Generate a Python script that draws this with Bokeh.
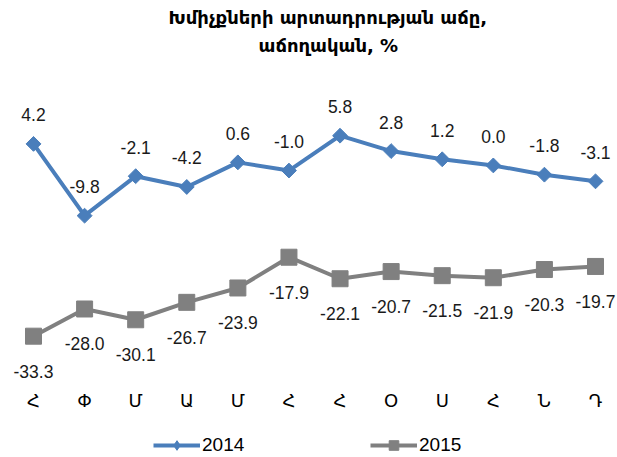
import math
from bokeh.plotting import figure
from bokeh.layouts import column
from bokeh.core.properties import value
from bokeh.models import (ColumnDataSource, LabelSet, Legend, LegendItem, Title,
                          FixedTicker, Range1d)
from bokeh.embed import file_html
from bokeh.resources import INLINE

months = ["Հ", "Փ", "Մ", "Ա", "Մ", "Հ", "Հ", "Օ", "Ս", "Հ", "Ն", "Դ"]
y2014 = [4.2, -9.8, -2.1, -4.2, 0.6, -1.0, 5.8, 2.8, 1.2, 0.0, -1.8, -3.1]
y2015 = [-33.3, -28.0, -30.1, -26.7, -23.9, -17.9, -22.1, -20.7, -21.5, -21.9, -20.3, -19.7]
series_names = ["2014", "2015"]
title_lines = ["Խմիչքների արտադրության աճը,", "աճողական, %"]

BLUE = "#4a7ebb"
GRAY = "#808080"
W = 616

xs = list(range(len(months)))
src14 = ColumnDataSource(dict(x=xs, y=y2014, lab=["%.1f" % v for v in y2014]))
src15 = ColumnDataSource(dict(x=xs, y=y2015, lab=["%.1f" % v for v in y2015]))

p = figure(width=W, height=417, output_backend="svg", toolbar_location=None,
           x_range=Range1d(-0.646, 11.411), y_range=Range1d(-42.53, 21.05),
           y_axis_location=None, min_border_left=0, min_border_right=0,
           min_border_top=0, min_border_bottom=34, outline_line_color=None,
           title=None)
p.grid.visible = False

p.add_layout(Title(text=title_lines[1], align="left", offset=258, standoff=3,
                   text_font="DejaVu Sans", text_font_size="18px",
                   text_font_style="bold", text_color="#000000"), "above")
p.add_layout(Title(text=title_lines[0], align="left", offset=168, standoff=8,
                   text_font="DejaVu Sans", text_font_size="18px",
                   text_font_style="bold", text_color="#000000"), "above")

p.line("x", "y", source=src14, line_color=BLUE, line_width=4)
p.scatter("x", "y", source=src14, marker="square", angle=math.pi / 4,
          size=10.5, fill_color=BLUE, line_color=BLUE)
p.line("x", "y", source=src15, line_color=GRAY, line_width=4)
p.scatter("x", "y", source=src15, marker="square", size=16,
          fill_color=GRAY, line_color=GRAY)

lab_font = value("Arial")
p.add_layout(LabelSet(x="x", y="y", text="lab", source=src14, y_offset=29,
                      text_align="center", text_baseline="middle",
                      text_font=lab_font, text_font_size="17.5px", text_color="#1a1a1a"))
p.add_layout(LabelSet(x="x", y="y", text="lab", source=src15, y_offset=-35,
                      text_align="center", text_baseline="middle",
                      text_font=lab_font, text_font_size="17.5px", text_color="#1a1a1a"))

ax = p.xaxis[0]
ax.ticker = FixedTicker(ticks=xs)
ax.major_label_overrides = {i: m for i, m in enumerate(months)}
ax.axis_line_color = None
ax.major_tick_line_color = None
ax.minor_tick_line_color = None
ax.major_label_standoff = 0
ax.major_label_text_font = "DejaVu Sans"
ax.major_label_text_font_size = "18px"
ax.major_label_text_color = "#000000"

# legend strip (its own small figure; the legend renderers sit outside its view)
lg = figure(width=W, height=40, output_backend="svg", toolbar_location=None,
            x_range=Range1d(0, 1), y_range=Range1d(0, 1),
            x_axis_location=None, y_axis_location=None,
            min_border_left=0, min_border_right=0, min_border_top=0,
            min_border_bottom=0, outline_line_color=None)
lg.grid.visible = False
off = dict(x=[-5, -6], y=[-5, -6])
ll1 = lg.line(x=off["x"], y=off["y"], line_color=BLUE, line_width=4)
ls1 = lg.scatter(x=off["x"], y=off["y"], marker="diamond",
                 fill_color=BLUE, line_color=BLUE)
ll2 = lg.line(x=off["x"], y=off["y"], line_color=GRAY, line_width=4)
ls2 = lg.scatter(x=off["x"], y=off["y"], marker="square",
                 fill_color=GRAY, line_color=GRAY)

legend = Legend(items=[LegendItem(label=series_names[0], renderers=[ll1, ls1]),
                       LegendItem(label=series_names[1], renderers=[ll2, ls2])],
                orientation="horizontal", location=(153, 0), spacing=124,
                glyph_width=47, glyph_height=24, label_standoff=2, label_width=44,
                padding=0, margin=0,
                border_line_color=None, background_fill_alpha=0,
                label_text_font="Arial", label_text_font_size="19px",
                label_text_color="#000000")
lg.add_layout(legend)

open("out.html", "w").write(file_html(column(p, lg, spacing=0), INLINE))
